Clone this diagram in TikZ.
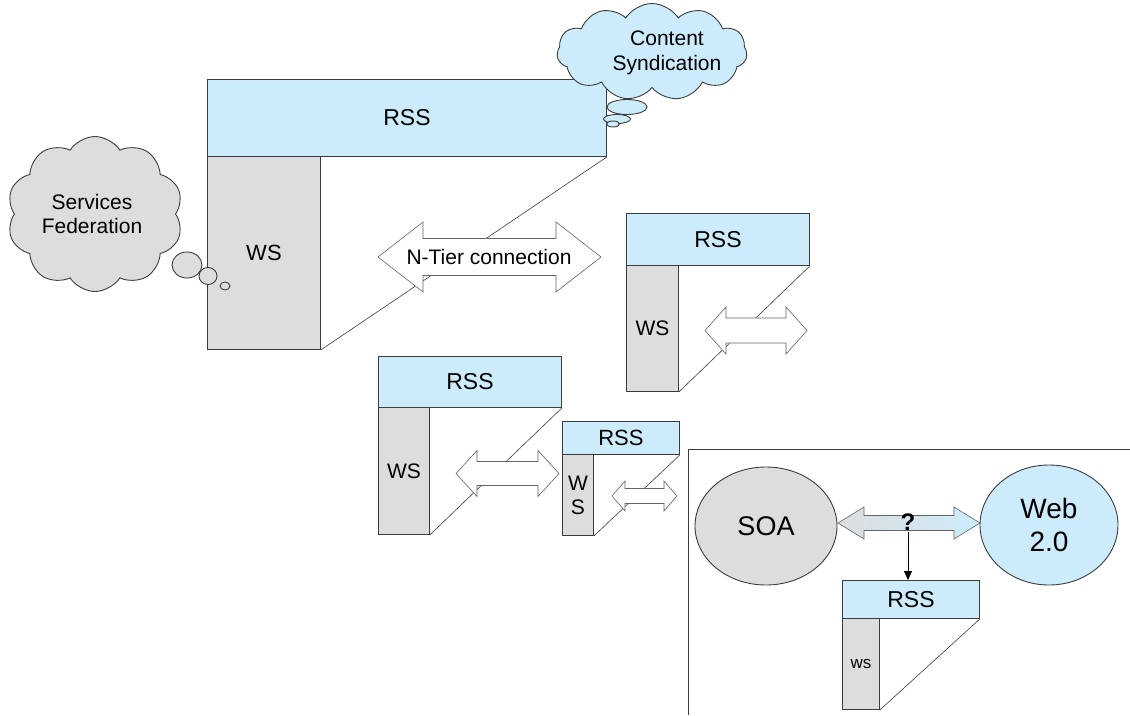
\documentclass[tikz,border=0pt]{standalone}
\usepackage{fontspec}
\setmainfont{Liberation Sans}
\usetikzlibrary{shapes.symbols,shapes.geometric,arrows.meta}
\definecolor{rssblue}{RGB}{204,236,252}
\definecolor{wsgray}{RGB}{221,221,221}
\definecolor{edge}{RGB}{60,60,60}
\newcommand\fs[2]{\fontsize{#1}{#2}\selectfont}
\newcommand\blockarrow[7]{% style, left tip x, right tip x, yc, shaft half, head half, head length
  \path[#1] (#2,#4) -- ({#2+#7},{#4-#6}) -- ({#2+#7},{#4-#5}) -- ({#3-#7},{#4-#5}) -- ({#3-#7},{#4-#6}) -- (#3,#4)
   -- ({#3-#7},{#4+#6}) -- ({#3-#7},{#4+#5}) -- ({#2+#7},{#4+#5}) -- ({#2+#7},{#4+#6}) -- cycle;}
\tikzset{
  rssbox/.style={draw=edge, fill=rssblue, line width=0.9pt, anchor=north west, inner sep=0pt, text=black},
  wsbox/.style={draw=edge, fill=wsgray, line width=0.9pt, anchor=north west, inner sep=0pt, text=black},
  diag/.style={draw=edge, line width=0.6pt},
  barrow/.style={draw=edge!80, fill=white, line width=0.6pt},
  cloudshape/.style={cloud, draw=edge, line width=0.9pt, cloud puffs=11, cloud puff arc=115, aspect=1.6, inner sep=0pt},
  bubble/.style={ellipse, draw=edge, line width=0.9pt, inner sep=0pt},
  ellnode/.style={ellipse, draw=edge, line width=0.9pt, inner sep=0pt, text=black}
}
\begin{document}
\begin{tikzpicture}[x=1pt,y=-1pt]
\useasboundingbox (0,0) rectangle (1130,715);

% ---------- structure 1 ----------
\node[rssbox, minimum width=399, minimum height=77, font=\fs{23}{27}] (rss1) at (207,79) {RSS};
\node[wsbox, minimum width=113, minimum height=193, font=\fs{22}{26}] (ws1) at (207,156) {WS};
\draw[diag] (ws1.south east) -- (rss1.south east);
\blockarrow{barrow}{378}{601}{257}{18.5}{35}{45}
\node[text=black, font=\fs{21}{25}] (ntier) at (489,257) {N-Tier connection};

% Content Syndication cloud
\node[cloudshape, fill=rssblue, minimum width=190, minimum height=97] (cs) at (652,52) {};
\node[align=center, text=black, font=\fs{21}{25}] (cstext) at (667,53) {Content\\Syndication};
\node[bubble, fill=rssblue, minimum width=40, minimum height=15] (csb1) at (627,107) {};
\node[bubble, fill=rssblue, minimum width=27, minimum height=9] (csb2) at (617,119) {};
\node[bubble, fill=rssblue, minimum width=13, minimum height=6] (csb3) at (613,124) {};

% Services Federation cloud
\node[cloudshape, fill=wsgray, cloud puffs=10, aspect=1.1, minimum width=176, minimum height=155] (sf) at (95,214) {};
\node[align=center, text=black, font=\fs{21}{24}] (sftext) at (92,214) {Services\\Federation};
\node[bubble, fill=wsgray, minimum width=30, minimum height=26] (sfb1) at (187,265) {};
\node[bubble, fill=wsgray, minimum width=18, minimum height=17] (sfb2) at (208,276) {};
\node[bubble, fill=wsgray, minimum width=10, minimum height=8] (sfb3) at (225,286) {};

% ---------- structure 2 ----------
\node[rssbox, minimum width=183, minimum height=52, font=\fs{23}{27}] (rss2) at (626,213) {RSS};
\node[wsbox, minimum width=52, minimum height=126, font=\fs{21}{25}] (ws2) at (626,265) {WS};
\draw[diag] (ws2.south east) -- (rss2.south east);
\blockarrow{barrow}{705}{807}{330.5}{12.5}{23.5}{21}

% ---------- structure 3 ----------
\node[rssbox, minimum width=183, minimum height=51, font=\fs{23}{27}] (rss3) at (378,356) {RSS};
\node[wsbox, minimum width=51, minimum height=127, font=\fs{21}{25}] (ws3) at (378,407) {WS};
\draw[diag] (ws3.south east) -- (rss3.south east);
\blockarrow{barrow}{456}{559}{473.5}{12}{23}{21}

% ---------- structure 4 ----------
\node[rssbox, minimum width=117, minimum height=33, font=\fs{22}{26}] (rss4) at (562,421) {RSS};
\node[wsbox, minimum width=31, minimum height=81, align=center, font=\fs{21}{24}] (ws4) at (562,454) {W\\S};
\draw[diag] (ws4.south east) -- (rss4.south east);
\blockarrow{barrow}{612}{677}{496}{7.5}{15}{13}

% ---------- frame ----------
\coordinate (fb) at (688,715);
\coordinate (ftl) at (688,449);
\coordinate (fr) at (1130,449);
\draw[edge, line width=0.9pt] (fb) -- (ftl) -- (fr);

% SOA / Web 2.0
\node[ellnode, fill=wsgray, minimum width=142, minimum height=118, font=\fs{27}{32}] (soa) at (766,526) {SOA};
\node[ellnode, fill=rssblue, minimum width=138, minimum height=120, align=center, font=\fs{28}{33}] (web) at (1049,525) {Web\\2.0};
\blockarrow{draw=edge!80, line width=0.6pt, left color=wsgray, right color=rssblue}{838}{980}{523}{7.5}{16}{26}
\node[text=black, inner sep=0pt, font=\fs{24}{28}\bfseries] (q) at (908,522) {?};

\node[rssbox, minimum width=137, minimum height=38, font=\fs{23}{27}] (rss5) at (842,580) {RSS};
\node[wsbox, minimum width=37, minimum height=91, font=\fs{17}{20}] (ws5) at (842,618) {ws};
\draw[diag] (ws5.south east) -- (rss5.south east);
\coordinate (qa) at (908,532);
\draw[black, line width=0.8pt, -{Triangle[length=9pt,width=8pt]}] (qa) -- (rss5.north -| qa);
\end{tikzpicture}
\end{document}
